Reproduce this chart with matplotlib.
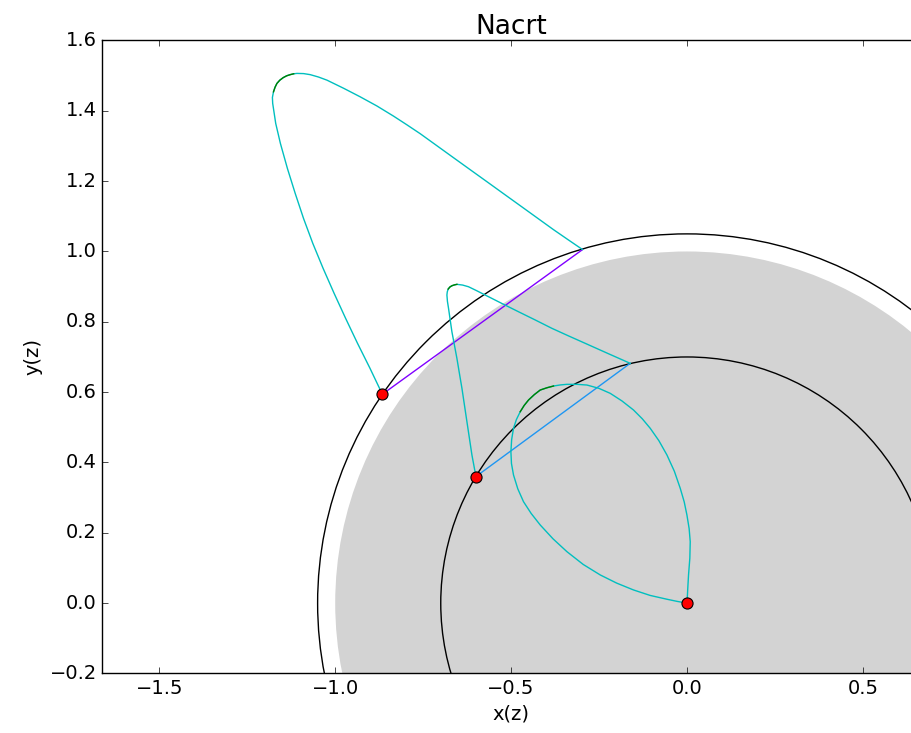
import numpy as np
import matplotlib
matplotlib.use('Agg')
import matplotlib.pyplot as plt
from matplotlib.patches import Circle

plt.style.use('classic')
plt.rcParams.update({'font.size': 14})

# planet and orbit radii
r_planet = 1.0
r_orbits = [1.05, 0.70]

# launch points
launch_x = [0.0, -0.600, -0.866]
launch_y = [0.0, 0.360, 0.594]

# trajectory 1 (starts and ends at origin)
loop1_x = [0.0, -0.028, -0.0571, -0.105, -0.1521, -0.200, -0.2467, -0.295, -0.3414, -0.381,
           -0.4173, -0.443, -0.4648, -0.481, -0.4932, -0.499, -0.5006, -0.4985, -0.4932, -0.485,
           -0.4741, -0.463, -0.4505, -0.434, -0.4173, -0.398, -0.3795, -0.360, -0.3414, -0.313,
           -0.2845, -0.251, -0.2183, -0.185, -0.1521, -0.127, -0.1046, -0.080, -0.0571, -0.036,
           -0.0193, -0.008, -0.0003, 0.006, 0.0091, 0.008, 0.0043, 0.002, 0.0]
loop1_y = [0.0, 0.005, 0.0111, 0.022, 0.0375, 0.057, 0.0802, 0.110, 0.1464, 0.183,
           0.2223, 0.255, 0.2885, 0.325, 0.3644, 0.397, 0.4306, 0.465, 0.4972, 0.522,
           0.5443, 0.562, 0.5776, 0.593, 0.6060, 0.6125, 0.6174, 0.6205, 0.6222, 0.6222,
           0.6202, 0.611, 0.5966, 0.575, 0.5492, 0.524, 0.4972, 0.462, 0.4213, 0.375,
           0.3266, 0.288, 0.2507, 0.212, 0.1748, 0.128, 0.0802, 0.040, 0.0]
loop1_green = (20, 26)

# trajectory 2
loop2_x = [-0.600, -0.6114, -0.6185, -0.6256, -0.6327, -0.6398, -0.6470, -0.6541, -0.6612, -0.6683,
           -0.6731, -0.6779, -0.6810, -0.6825, -0.6815, -0.6790, -0.6740, -0.6683, -0.6610, -0.6541,
           -0.6380, -0.6211, -0.597, -0.5736, -0.526, -0.4790, -0.431, -0.3840, -0.337, -0.2894,
           -0.225, -0.1615]
loop2_y = [0.360, 0.4213, 0.4686, 0.5159, 0.5634, 0.6109, 0.6535, 0.6961, 0.734, 0.7717,
           0.805, 0.8383, 0.858, 0.8761, 0.885, 0.893, 0.899, 0.9025, 0.905, 0.9065,
           0.9045, 0.8997, 0.888, 0.8761, 0.852, 0.8286, 0.805, 0.7814, 0.760, 0.7388,
           0.710, 0.6819]
loop2_green = (15, 19)

# trajectory 3
loop3_x = [-0.866, -0.9011, -0.9366, -0.9704, -1.0031, -1.0344, -1.0637, -1.0901, -1.1137, -1.1359,
           -1.1558, -1.1691, -1.1777, -1.1785, -1.1754, -1.1710, -1.1657, -1.1575, -1.1478, -1.138,
           -1.1279, -1.118, -1.1089, -1.090, -1.0711, -1.048, -1.0236, -0.976, -0.9289, -0.8816,
           -0.8343, -0.7963, -0.7584, -0.7111, -0.6637, -0.6163, -0.5688, -0.5215, -0.4741, -0.4268,
           -0.3795, -0.3383, -0.2970]
loop3_y = [0.594, 0.6677, 0.7388, 0.8098, 0.8809, 0.9520, 1.0230, 1.0941, 1.1651, 1.2362,
           1.3073, 1.3641, 1.4210, 1.438, 1.454, 1.467, 1.4778, 1.487, 1.4943, 1.4995,
           1.5028, 1.5052, 1.5063, 1.5058, 1.5028, 1.4962, 1.4872, 1.464, 1.4397, 1.4138,
           1.3849, 1.3602, 1.3349, 1.3008, 1.2666, 1.2325, 1.1984, 1.1643, 1.1302, 1.0961,
           1.0620, 1.0336, 1.0054]
loop3_green = (14, 21)

loops = [(loop1_x, loop1_y, loop1_green),
         (loop2_x, loop2_y, loop2_green),
         (loop3_x, loop3_y, loop3_green)]
chord_colors = ['#ff0000', '#1e96f2', '#8000ff']

fig = plt.figure(figsize=(9.11, 7.33), dpi=100, facecolor='white')
ax = fig.add_axes([0.1123, 0.0812, 0.8975, 0.8636])

ax.add_patch(Circle((0, 0), r_planet, facecolor='lightgray', edgecolor='none', zorder=1))
for r in r_orbits:
    ax.add_patch(Circle((0, 0), r, fill=False, edgecolor='k', lw=1.0, zorder=2))

for (lx, ly, (g0, g1)), col in zip(loops, chord_colors):
    ax.plot([lx[0], lx[-1]], [ly[0], ly[-1]], color=col, lw=1.0, zorder=3)
    ax.plot(lx, ly, color='c', lw=1.0, zorder=4)
    ax.plot(lx[g0:g1 + 1], ly[g0:g1 + 1], color='g', lw=1.0, zorder=5)

ax.plot(launch_x, launch_y, 'o', color='r', mec='k', mew=0.8, ms=8, zorder=6)

ax.set_xlim(-1.662, 0.662)
ax.set_ylim(-0.2, 1.6)
ax.set_xticks([-1.5, -1.0, -0.5, 0.0, 0.5])
ax.set_yticks(np.arange(-0.2, 1.61, 0.2))
ax.set_title('Nacrt', fontsize=19)
ax.set_xlabel('x(z)')
ax.set_ylabel('y(z)')

fig.savefig('out.png', dpi=100, facecolor='white')
